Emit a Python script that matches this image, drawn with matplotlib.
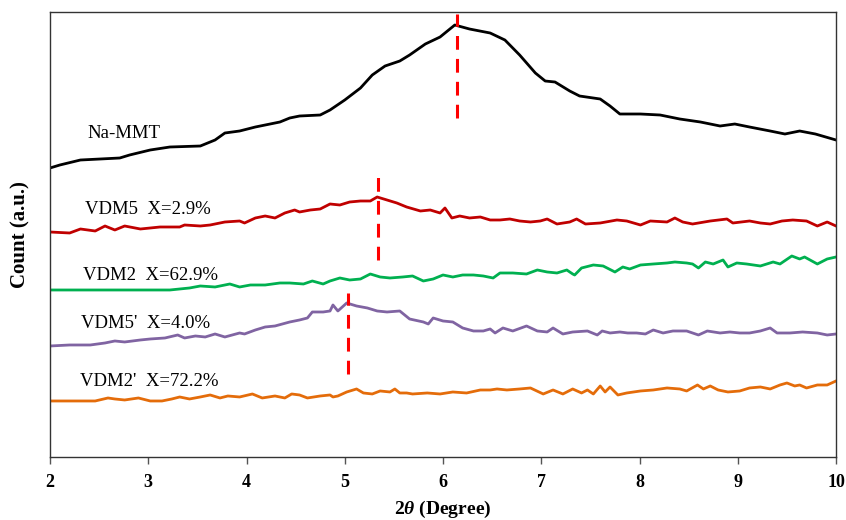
import numpy as np
import matplotlib
matplotlib.use("Agg")
import matplotlib.pyplot as plt

plt.rcParams["font.family"] = ["Liberation Serif", "DejaVu Serif"]
plt.rcParams["mathtext.fontset"] = "custom"
plt.rcParams["mathtext.rm"] = "Liberation Serif:bold"
plt.rcParams["mathtext.it"] = "Liberation Serif:italic:bold"
plt.rcParams["mathtext.bf"] = "Liberation Serif:bold"

# Na-MMT
na_theta = [2.00, 2.10, 2.31, 2.71, 2.81, 3.02, 3.22, 3.53, 3.68, 3.78, 3.93, 4.09, 4.34,
            4.44, 4.54, 4.75, 4.85, 5.00, 5.16, 5.28, 5.41, 5.56, 5.66, 5.82, 5.97, 6.12,
            6.27, 6.48, 6.63, 6.78, 6.94, 7.04, 7.14, 7.29, 7.39, 7.60, 7.70, 7.80, 8.01,
            8.21, 8.41, 8.62, 8.82, 8.97, 9.12, 9.33, 9.48, 9.63, 9.79, 10.00]
na_count = [289, 292, 297, 299, 302, 307, 310, 311, 317, 324, 326, 330, 335,
            339, 341, 342, 347, 357, 369, 382, 391, 396, 402, 413, 420, 432,
            428, 424, 417, 402, 384, 376, 375, 366, 361, 358, 351, 343, 343,
            342, 338, 335, 331, 333, 330, 326, 323, 326, 323, 317]

# VDM5 X=2.9%
v5_theta = [2.00, 2.20, 2.31, 2.46, 2.56, 2.66, 2.76, 2.92, 3.12, 3.32, 3.37, 3.53, 3.63,
            3.78, 3.93, 3.98, 4.09, 4.19, 4.29, 4.39, 4.49, 4.54, 4.65, 4.75, 4.85,
            4.95, 5.05, 5.16, 5.26, 5.33, 5.43, 5.53, 5.63, 5.77, 5.87, 5.97, 6.02,
            6.09, 6.17, 6.27, 6.38, 6.48, 6.58, 6.68, 6.78, 6.89, 6.99, 7.06, 7.16,
            7.29, 7.36, 7.45, 7.60, 7.77, 7.87, 8.01, 8.11, 8.28, 8.36, 8.44, 8.54,
            8.72, 8.89, 8.95, 9.12, 9.23, 9.33, 9.45, 9.56, 9.70, 9.81, 9.91, 10.00]
v5_count = [225, 224, 228, 226, 231, 227, 231, 228, 230, 230, 232, 231, 232,
            235, 236, 234, 239, 241, 239, 244, 247, 245, 247, 248, 253,
            252, 255, 256, 256, 260, 257, 254, 250, 246, 247, 244, 249,
            239, 241, 239, 240, 237, 237, 238, 236, 235, 236, 238, 233,
            235, 238, 233, 234, 237, 236, 232, 236, 235, 239, 235, 233,
            236, 238, 234, 236, 234, 233, 236, 237, 236, 231, 235, 231]

# VDM2 X=62.9%
v2_theta = [2.00, 2.56, 3.02, 3.22, 3.42, 3.53, 3.68, 3.83, 3.93, 4.04, 4.19, 4.34, 4.44,
            4.58, 4.67, 4.78, 4.85, 4.95, 5.05, 5.16, 5.26, 5.36, 5.46, 5.59, 5.69,
            5.80, 5.90, 6.00, 6.10, 6.20, 6.31, 6.41, 6.51, 6.58, 6.71, 6.85, 6.96,
            7.06, 7.16, 7.26, 7.32, 7.34, 7.41, 7.53, 7.63, 7.75, 7.83, 7.90, 8.01,
            8.14, 8.28, 8.36, 8.48, 8.54, 8.60, 8.67, 8.75, 8.85, 8.90, 8.99, 9.09,
            9.23, 9.36, 9.43, 9.55, 9.63, 9.68, 9.81, 9.91, 10.00]
v2_count = [167, 167, 167, 167, 169, 171, 170, 173, 170, 172, 172, 174, 174,
            173, 176, 173, 176, 179, 177, 178, 183, 180, 179, 180, 181,
            176, 178, 182, 180, 182, 182, 181, 179, 184, 184, 183, 187,
            185, 184, 187, 183, 182, 189, 192, 191, 185, 190, 188, 192,
            193, 194, 195, 194, 193, 189, 195, 193, 197, 190, 194, 193,
            191, 195, 193, 201, 198, 200, 193, 198, 200]

# VDM5' X=4.0%
v5p_theta = [2.00, 2.20, 2.41, 2.56, 2.66, 2.76, 2.92, 3.02, 3.17, 3.30, 3.37, 3.48, 3.58,
             3.68, 3.78, 3.93, 3.98, 4.09, 4.19, 4.29, 4.44, 4.54, 4.62, 4.67, 4.78,
             4.85, 4.88, 4.93, 5.02, 5.12, 5.23, 5.33, 5.43, 5.56, 5.66, 5.80, 5.85,
             5.90, 6.00, 6.10, 6.20, 6.31, 6.41, 6.48, 6.53, 6.61, 6.71, 6.85, 6.96,
             7.06, 7.12, 7.22, 7.32, 7.47, 7.57, 7.62, 7.70, 7.80, 7.88, 7.97, 8.06,
             8.14, 8.24, 8.34, 8.48, 8.60, 8.69, 8.82, 8.92, 9.02, 9.12, 9.23, 9.33,
             9.40, 9.53, 9.66, 9.81, 9.91, 10.00]
v5p_count = [111, 112, 112, 114, 116, 115, 117, 118, 119, 122, 119, 121, 120,
             123, 120, 124, 123, 127, 130, 131, 135, 137, 139, 145, 145,
             146, 152, 146, 154, 151, 149, 146, 145, 146, 138, 135, 133,
             139, 136, 135, 129, 126, 126, 128, 124, 129, 126, 131, 126,
             125, 129, 123, 125, 126, 122, 126, 124, 125, 124, 124, 123,
             127, 124, 126, 126, 122, 126, 124, 125, 124, 124, 126, 129,
             124, 124, 125, 124, 122, 123]

# VDM2' X=72.2%
v2p_theta = [2.00, 2.46, 2.59, 2.66, 2.76, 2.90, 3.02, 3.14, 3.24, 3.32, 3.42, 3.53, 3.63,
             3.73, 3.81, 3.93, 4.06, 4.16, 4.29, 4.39, 4.46, 4.54, 4.62, 4.75, 4.85,
             4.88, 4.93, 5.02, 5.12, 5.19, 5.28, 5.36, 5.46, 5.51, 5.56, 5.63, 5.69,
             5.84, 5.97, 6.10, 6.24, 6.38, 6.48, 6.55, 6.65, 6.78, 6.89, 7.02, 7.12,
             7.22, 7.32, 7.41, 7.47, 7.53, 7.60, 7.65, 7.70, 7.78, 7.87, 8.01, 8.14,
             8.28, 8.41, 8.48, 8.59, 8.65, 8.72, 8.80, 8.90, 9.02, 9.12, 9.23, 9.33,
             9.43, 9.50, 9.58, 9.63, 9.70, 9.81, 9.91, 10.00]
v2p_count = [56, 56, 59, 58, 57, 59, 56, 56, 58, 60, 58, 60, 62,
             59, 61, 60, 63, 59, 61, 59, 63, 62, 59, 61, 62,
             60, 61, 65, 68, 64, 63, 66, 65, 68, 64, 64, 63,
             64, 63, 65, 64, 67, 67, 68, 67, 68, 69, 63, 67,
             63, 68, 64, 67, 63, 71, 65, 70, 62, 64, 66, 67,
             69, 68, 66, 72, 68, 71, 67, 65, 66, 69, 70, 68,
             72, 74, 71, 72, 69, 72, 72, 76]

labels = ["Na-MMT", "VDM5  X=2.9%", "VDM2  X=62.9%", "VDM5'  X=4.0%", "VDM2'  X=72.2%"]
label_x = [2.38, 2.36, 2.34, 2.32, 2.31]
label_y = [324, 247, 181, 133, 75]
colors = ["#000000", "#C00000", "#00B050", "#8064A2", "#E46C0A"]

# peak markers: position, lower and upper end
peak_pos = [6.14, 5.34, 5.03]
peak_lo = [339, 197, 83]
peak_hi = [443, 282, 164]

fig = plt.figure(figsize=(8.46, 5.2), dpi=100)
ax = fig.add_axes([0.0591, 0.1212, 0.9291, 0.8557])

series = [(na_theta, na_count), (v5_theta, v5_count), (v2_theta, v2_count),
          (v5p_theta, v5p_count), (v2p_theta, v2p_count)]
for (t, c), col in zip(series, colors):
    ax.plot(t, c, color=col, lw=2.0, solid_joinstyle="round")

for lab, lx, ly in zip(labels, label_x, label_y):
    ax.text(lx, ly, lab, fontsize=13.5, va="center", ha="left")

for p, lo, hi in zip(peak_pos, peak_lo, peak_hi):
    ax.plot([p, p], [lo, hi], color="#FF0000", lw=2.2, ls=(0, (4.5, 3)))

ax.set_xlim(2, 10)
ax.set_ylim(0, 445)
ax.set_xticks(np.arange(2, 11, 1))
ax.set_yticks([])
ax.tick_params(axis="x", direction="out", length=5, width=1, color="#555555",
               labelsize=13, pad=7)
for lbl in ax.get_xticklabels():
    lbl.set_fontweight("bold")
for s in ax.spines.values():
    s.set_color("#333333")
    s.set_linewidth(1)

ax.set_xlabel(r"2$\it{\theta}$ (Degree)", fontsize=14, fontweight="bold", labelpad=6)
ax.set_ylabel("Count (a.u.)", fontsize=15, fontweight="bold", labelpad=14)

fig.savefig("out.png", dpi=100)
